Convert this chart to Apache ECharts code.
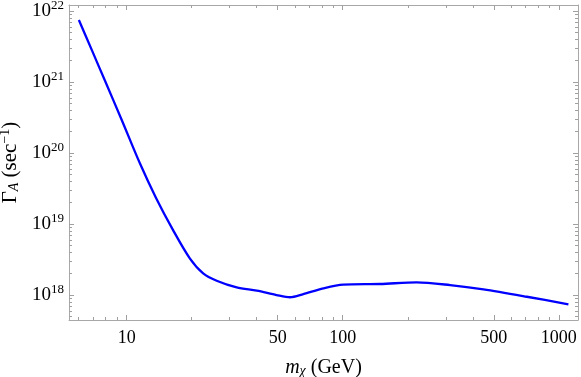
<!DOCTYPE html>
<html>
<head>
<meta charset="utf-8">
<script src="https://cdn.jsdelivr.net/npm/echarts@6/dist/echarts.min.js"></script>
<style>html,body{margin:0;padding:0;background:#fff;}#c{width:581px;height:377px;}</style>
</head>
<body>
<div id="c"></div>
<script>
// Data
const massGeV = [6.01, 6.91, 7.94, 9.49, 11.5, 13.66, 16.4, 19.6, 22.6, 26.1, 32.3, 40.0, 49.4, 57.0, 65.7, 81.3, 100.6, 149, 220, 314, 448, 711, 1108];
const rateA = [7.47e21, 2.79e21, 1.04e21, 2.92e20, 7.23e19, 2.35e19, 8.2e18, 3.29e18, 2.02e18, 1.59e18, 1.28e18, 1.15e18, 1.0e18, 9.3e17, 1.03e18, 1.24e18, 1.40e18, 1.43e18, 1.51e18, 1.38e18, 1.20e18, 9.46e17, 7.4e17];
const xLabelTicks = [10, 50, 100, 500, 1000];
const yLabelTicks = [1e18, 1e19, 1e20, 1e21, 1e22];
const xRange = [5.41, 1227];
const yRange = [4.45e17, 1.216e22];

const L = Math.log10;
const seriesData = massGeV.map((m, i) => [L(m), L(rateA[i])]);

function minorList(lo, hi, exclude) {
  const out = [];
  for (let e = Math.floor(L(lo)); e <= Math.ceil(L(hi)); e++) {
    for (let k = 1; k <= 9; k++) {
      const v = k * Math.pow(10, e);
      if (v >= lo && v <= hi && !exclude.some(x => Math.abs(x - v) / v < 1e-9)) out.push(L(v));
    }
  }
  return out;
}
const xMinor = minorList(xRange[0], xRange[1], xLabelTicks);
const yMinor = minorList(yRange[0], yRange[1], yLabelTicks);
const xMajor = xLabelTicks.map(L);
const yMajor = yLabelTicks.map(L);

const frameColor = '#a8a8a8';
const tickColor = '#a0a0a0';
const font = 'Liberation Serif';

function xAxisDef(pos, ticks, len, showLine, labels) {
  return {
    type: 'value', position: pos, min: L(xRange[0]), max: L(xRange[1]),
    splitLine: {show: false},
    axisLine: {show: showLine, lineStyle: {color: frameColor, width: 1}},
    axisTick: {show: true, inside: true, length: len, customValues: ticks, lineStyle: {color: tickColor}},
    axisLabel: labels ? {
      show: true, customValues: xMajor, margin: 9, color: '#000', fontFamily: font, fontSize: 18,
      formatter: v => String(Math.round(Math.pow(10, v)))
    } : {show: false}
  };
}
function yAxisDef(pos, ticks, len, showLine, labels) {
  return {
    type: 'value', position: pos, min: L(yRange[0]), max: L(yRange[1]),
    splitLine: {show: false},
    axisLine: {show: showLine, lineStyle: {color: frameColor, width: 1}},
    axisTick: {show: true, inside: true, length: len, customValues: ticks, lineStyle: {color: tickColor}},
    axisLabel: labels ? {
      show: true, customValues: yMajor, margin: 5, color: '#000', fontFamily: font,
      formatter: v => '{b|10}{s|' + Math.round(v) + '}',
      rich: {
        b: {fontFamily: font, fontSize: 19, color: '#000'},
        s: {fontFamily: font, fontSize: 13, color: '#000', padding: [0, 0, 11, 0]}
      }
    } : {show: false}
  };
}

const xAxes = [
  xAxisDef('bottom', xMajor, 5, true, true),
  xAxisDef('bottom', xMinor, 3, false, false),
  xAxisDef('top', xMajor, 5, true, false),
  xAxisDef('top', xMinor, 3, false, false)
];
xAxes[0].name = '{i|m}{sub|χ}{n| (GeV)}';
xAxes[0].nameLocation = 'middle';
xAxes[0].nameGap = 37;
xAxes[0].nameTextStyle = {
  color: '#000',
  rich: {
    i: {fontFamily: font, fontStyle: 'italic', fontSize: 20, color: '#000'},
    sub: {fontFamily: font, fontStyle: 'italic', fontSize: 14, color: '#000', padding: [7, 0, 0, 0]},
    n: {fontFamily: font, fontSize: 20, color: '#000'}
  }
};

const yAxes = [
  yAxisDef('left', yMajor, 5, true, true),
  yAxisDef('left', yMinor, 3, false, false),
  yAxisDef('right', yMajor, 5, true, false),
  yAxisDef('right', yMinor, 3, false, false)
];
yAxes[0].name = '{g|Γ}{sub|A}{n| (sec}{sup|−1}{n|)}';
yAxes[0].nameLocation = 'middle';
yAxes[0].nameGap = 45;
yAxes[0].nameRotate = 90;
yAxes[0].nameTextStyle = {
  color: '#000',
  rich: {
    g: {fontFamily: font, fontSize: 21, color: '#000'},
    sub: {fontFamily: font, fontStyle: 'italic', fontSize: 14, color: '#000', padding: [7, 0, 0, 0]},
    n: {fontFamily: font, fontSize: 21, color: '#000'},
    sup: {fontFamily: font, fontSize: 14, color: '#000', padding: [0, 0, 10, 0]}
  }
};

const chart = echarts.init(document.getElementById('c'), null, {renderer: 'canvas'});
chart.setOption({
  animation: false,
  backgroundColor: '#fff',
  grid: {left: 69, right: 3, top: 5, bottom: 57, containLabel: false, outerBoundsMode: 'none'},
  xAxis: xAxes,
  yAxis: yAxes,
  series: [{
    type: 'line', xAxisIndex: 0, yAxisIndex: 0,
    data: seriesData, showSymbol: false, smooth: 0.3,
    lineStyle: {color: '#0000ff', width: 2.3}
  }]
});
</script>
</body>
</html>
